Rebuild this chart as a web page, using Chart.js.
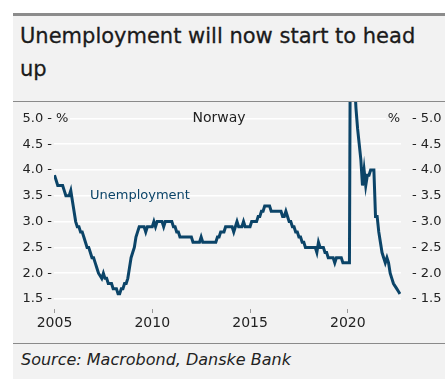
<!DOCTYPE html>
<html>
<head>
<meta charset="utf-8">
<script src="https://cdn.jsdelivr.net/npm/chart.js@4"></script>
<style>
  body { margin: 0; background: #fff; width: 445px; height: 379px; overflow: hidden; }
  #panel { position: absolute; left: 13px; top: 13px; width: 432px; height: 366px;
           background: #f2f2f2; border-top: 3px solid #8c8c8c; box-sizing: border-box; }
  #title { position: absolute; left: 20px; top: 20px; width: 410px;
           font: 400 21px "DejaVu Sans", sans-serif; line-height: 33px; color: #1b1b1b;
           -webkit-text-stroke: 0.3px #1b1b1b; }
  .rule { position: absolute; left: 13px; width: 432px; height: 1px; background: #8a8a8a; }
  #chart { position: absolute; left: 13px; top: 102px; }
  #source { position: absolute; left: 21px; top: 351px;
            font: italic 16px "DejaVu Sans", sans-serif; line-height: 18px; color: #222; }
</style>
</head>
<body>
<div id="panel"></div>
<div id="title">Unemployment will now start to head up</div>
<div class="rule" style="top:101px"></div>
<canvas id="chart" width="432" height="240"></canvas>
<div class="rule" style="top:343px"></div>
<div id="source">Source: Macrobond, Danske Bank</div>
<script>
// Norway, registered unemployment, % (monthly, Jan 2005 - Sep 2022)
const startYear = 2005;
const unemployment = [
  3.9, 3.8, 3.7, 3.7, 3.7, 3.7, 3.6, 3.5, 3.5, 3.5, 3.6, 3.4,   // 2005
  3.2, 3.0, 2.9, 2.9, 2.8, 2.8, 2.7, 2.6, 2.5, 2.5, 2.4, 2.3,   // 2006
  2.3, 2.2, 2.1, 2.0, 1.95, 1.9, 2.0, 1.9, 1.9, 1.8, 1.8, 1.8,  // 2007
  1.7, 1.7, 1.7, 1.6, 1.6, 1.7, 1.7, 1.8, 1.8, 1.9, 2.1, 2.3,   // 2008
  2.4, 2.5, 2.7, 2.8, 2.9, 2.9, 2.9, 2.9, 2.8, 2.9, 2.9, 2.9,   // 2009
  2.9, 3.0, 2.9, 3.0, 3.0, 3.0, 3.0, 2.9, 3.0, 3.0, 3.0, 3.0,   // 2010
  3.0, 2.9, 2.9, 2.8, 2.8, 2.7, 2.7, 2.7, 2.7, 2.7, 2.7, 2.7,   // 2011
  2.7, 2.6, 2.6, 2.6, 2.6, 2.6, 2.7, 2.6, 2.6, 2.6, 2.6, 2.6,   // 2012
  2.6, 2.6, 2.6, 2.6, 2.7, 2.7, 2.8, 2.8, 2.8, 2.9, 2.9, 2.9,   // 2013
  2.9, 2.9, 2.8, 2.9, 3.0, 2.9, 2.9, 2.9, 3.0, 2.9, 2.9, 2.9,   // 2014
  2.9, 3.0, 3.0, 3.0, 3.0, 3.1, 3.1, 3.2, 3.2, 3.3, 3.3, 3.3,   // 2015
  3.3, 3.2, 3.2, 3.2, 3.2, 3.2, 3.2, 3.2, 3.1, 3.1, 3.2, 3.1,   // 2016
  3.0, 3.0, 2.9, 2.9, 2.8, 2.8, 2.7, 2.7, 2.6, 2.6, 2.5, 2.5,   // 2017
  2.5, 2.5, 2.5, 2.5, 2.5, 2.4, 2.6, 2.5, 2.5, 2.5, 2.4, 2.4,   // 2018
  2.3, 2.3, 2.3, 2.3, 2.2, 2.3, 2.3, 2.3, 2.3, 2.2, 2.2, 2.2,   // 2019
  2.2, 2.2, 10.4, 10.7, 5.8, 5.2, 4.8, 4.5, 4.2, 3.7, 4.0, 3.7, // 2020
  3.9, 3.9, 4.0, 4.0, 4.0, 3.1, 3.1, 2.8, 2.6, 2.4, 2.3, 2.2,   // 2021
  2.3, 2.2, 2.0, 1.9, 1.8, 1.75, 1.7, 1.65, 1.6                // 2022
];
const yearTicks = [2005, 2010, 2015, 2020];
const valueTicks = [1.5, 2.0, 2.5, 3.0, 3.5, 4.0, 4.5, 5.0];
const seriesName = 'Unemployment';
const countryName = 'Norway';

const lineColor = '#0b4468';
const axisFont = { family: 'DejaVu Sans', size: 13 };
const yRange = { min: 1.306, max: 5.318 };

const points = unemployment.map((v, i) => ({ x: startYear + i / 12, y: v }));

// no extra room for edge labels: the plot fills the canvas height
const noEdgePadding = s => { s.paddingTop = 0; s.paddingBottom = 0; };

const labelsPlugin = {
  id: 'labels',
  afterDraw(chart) {
    const { ctx, chartArea, scales } = chart;
    const yTop = scales.y.getPixelForValue(5.0);
    ctx.save();
    ctx.font = '13px "DejaVu Sans"';
    ctx.textBaseline = 'middle';
    // % unit next to the top ticks, on a background box
    ctx.fillStyle = '#f2f2f2';
    ctx.fillRect(chartArea.left, yTop - 7, 16, 14);
    ctx.fillRect(chartArea.right - 15, yTop - 7, 15, 14);
    ctx.fillStyle = '#222';
    ctx.textAlign = 'left';
    ctx.fillText('%', chartArea.left + 2, yTop);
    ctx.textAlign = 'right';
    ctx.fillText('%', chartArea.right - 1, yTop);
    // titles inside the plot
    ctx.textAlign = 'center';
    ctx.font = '14px "DejaVu Sans"';
    ctx.fillText(countryName, 206, yTop);
    ctx.textAlign = 'left';
    ctx.font = '13px "DejaVu Sans"';
    ctx.fillStyle = lineColor;
    ctx.fillText(seriesName, 77, scales.y.getPixelForValue(3.5));
    ctx.restore();
  }
};

new Chart(document.getElementById('chart'), {
  type: 'line',
  data: {
    datasets: [{
      label: seriesName,
      data: points,
      borderColor: lineColor,
      borderWidth: 3,
      pointRadius: 0,
      tension: 0
    }]
  },
  options: {
    responsive: false,
    animation: false,
    devicePixelRatio: 1,
    layout: { padding: 0 },
    plugins: { legend: { display: false }, tooltip: { enabled: false } },
    scales: {
      x: {
        type: 'linear',
        min: 2004.975,
        max: 2022.72,
        afterBuildTicks: s => { s.ticks = yearTicks.map(v => ({ value: v })); },
        afterFit: s => { s.height = 33; },
        grid: { drawOnChartArea: false, drawTicks: true, tickLength: 4, color: '#9a9a9a' },
        border: { display: false },
        ticks: { font: { family: 'DejaVu Sans', size: 14 }, color: '#222', padding: 2,
                 maxRotation: 0, callback: v => String(v) }
      },
      y: {
        position: 'left',
        min: yRange.min,
        max: yRange.max,
        afterBuildTicks: s => { s.ticks = valueTicks.map(v => ({ value: v })); },
        afterFit: s => { s.width = 41; noEdgePadding(s); },
        grid: { color: '#ffffff', lineWidth: 1.5, drawTicks: false },
        border: { display: false },
        ticks: { font: axisFont, color: '#222', padding: 2, callback: v => v.toFixed(1) + ' -' }
      },
      y2: {
        position: 'right',
        min: yRange.min,
        max: yRange.max,
        afterBuildTicks: s => { s.ticks = valueTicks.map(v => ({ value: v })); },
        afterFit: s => { s.width = 44; noEdgePadding(s); },
        grid: { display: false },
        border: { display: false },
        ticks: { font: axisFont, color: '#222', padding: 3, callback: v => '- ' + v.toFixed(1) }
      }
    }
  },
  plugins: [labelsPlugin]
});
</script>
</body>
</html>
